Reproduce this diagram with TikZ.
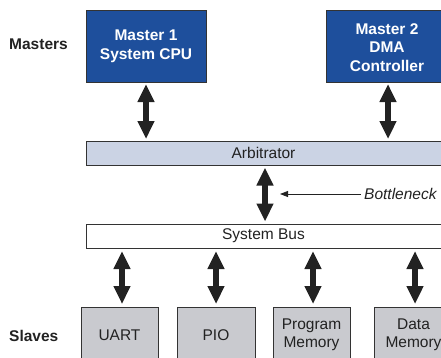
\documentclass[tikz,border=0pt]{standalone}
\usepackage{fontspec}
\setmainfont{Liberation Sans}
\usetikzlibrary{arrows.meta}
\definecolor{mblue}{HTML}{1E4F9C}
\definecolor{arbfill}{HTML}{CBD3E4}
\definecolor{slfill}{HTML}{C9CACF}
\definecolor{edge}{HTML}{333333}
\definecolor{ink}{HTML}{222222}
\begin{document}
\begin{tikzpicture}[x=1pt,y=-1pt,
  every node/.style={font=\fontsize{15.5}{18.5}\selectfont, inner sep=0pt, align=center},
  master/.style={draw=edge, line width=1pt, fill=mblue, text=white, font=\fontsize{15.5}{18.5}\selectfont\bfseries},
  barbox/.style={draw=edge, line width=1pt},
  slave/.style={draw=edge, line width=1pt, fill=slfill, text=ink},
  dbl/.style={draw=ink, line width=5.5pt, {Triangle[width=16pt,length=18pt]}-{Triangle[width=16pt,length=18pt]}},
  sidelabel/.style={anchor=west, font=\fontsize{15.5}{18.5}\selectfont\bfseries, text=ink}
]
\useasboundingbox (0,0) rectangle (441,357);
% boxes
\path[master] (86,10) rectangle (206,82);
\node[text=white, font=\fontsize{15.5}{18.5}\selectfont\bfseries] (m1) at (146,46.5) {Master 1\\System CPU};
\coordinate (m1b) at (146,82);
\path[master] (326,10) rectangle (448,82);
\node[text=white, font=\fontsize{15.5}{18.5}\selectfont\bfseries] (m2) at (387,47.5) {Master 2\\DMA\\Controller};
\coordinate (m2b) at (388,82);

\path[barbox, fill=arbfill] (86,141) rectangle (443,165);
\node[text=ink] (arb) at (263.5,153) {Arbitrator};
\coordinate (arbt) at (0,141);
\coordinate (arbb) at (0,165);

\path[barbox, fill=white] (86,224) rectangle (443,248);
\node[text=ink] (bus) at (263.5,236) {System Bus};
\coordinate (bust) at (0,224);
\coordinate (busb) at (0,248);

\path[slave] (81,307) rectangle (158,362);
\node[text=ink] (uart) at (119.5,335) {UART};
\path[slave] (177,307) rectangle (255,362);
\node[text=ink] (pio) at (216,335) {PIO};
\path[slave] (273,307) rectangle (350,362);
\node[text=ink] (pm) at (311.5,335) {Program\\Memory};
\path[slave] (374,307) rectangle (452,362);
\node[text=ink] (dm) at (413.5,335) {Data\\Memory};
\coordinate (slt) at (0,307);

% side labels
\node[sidelabel] (masters) at (9,44.5) {Masters};
\node[sidelabel] (slaves) at (9,335.5) {Slaves};

% arrows masters -> arbitrator
\draw[dbl] ([yshift=-2pt]m1b) -- ([yshift=2pt]arbt -| m1b);
\draw[dbl] ([yshift=-2pt]m2b) -- ([yshift=2pt]arbt -| m2b);

% bottleneck arrow
\coordinate (bx) at (265,0);
\draw[dbl] ([yshift=-2.5pt]arbb -| bx) -- ([yshift=2.5pt]bust -| bx);
\node[anchor=west, text=ink, font=\fontsize{15.5}{18.5}\selectfont\itshape] (bn) at (364,194) {Bottleneck};
\coordinate (bt) at (280,194);
\draw[draw=ink, line width=0.9pt, -{Triangle[width=6pt,length=8pt]}] ([xshift=-3pt]bn.west) -- (bt);

% slave arrows
\coordinate (s1) at (122,0);
\coordinate (s2) at (216,0);
\coordinate (s3) at (313,0);
\coordinate (s4) at (415,0);
\foreach \s in {s1,s2,s3,s4}{
  \draw[dbl] ([yshift=-3pt]busb -| \s) -- ([yshift=3pt]slt -| \s);
}
\end{tikzpicture}
\end{document}
